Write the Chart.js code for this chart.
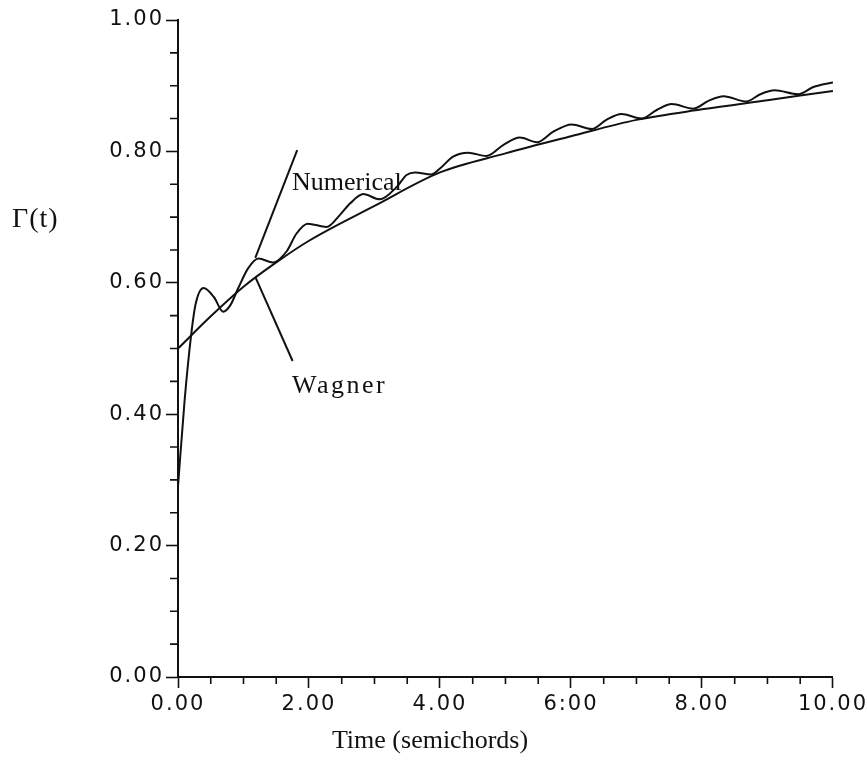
<!DOCTYPE html>
<html>
<head>
<meta charset="utf-8">
<script src="https://cdn.jsdelivr.net/npm/chart.js@4/dist/chart.umd.min.js"></script>
<style>
  html, body { margin: 0; padding: 0; background: #fff; }
  #wrap { width: 867px; height: 765px; position: relative; }
</style>
</head>
<body>
<div id="wrap"><canvas id="gamma-chart"></canvas></div>
<script>
// values (time in semichords, circulation ratio)
const numericalT = [0, 0.1, 0.2, 0.27, 0.39, 0.55, 0.69, 0.8, 0.92, 1.07, 1.23, 1.45, 1.66, 1.81, 1.98,
  2.27, 2.47, 2.63, 2.83, 3.08, 3.34, 3.49, 3.62, 3.87, 4.0, 4.2, 4.43, 4.71, 4.97, 5.22, 5.48,
  5.73, 6.01, 6.32, 6.54, 6.77, 7.08, 7.31, 7.54, 7.87, 8.1, 8.33, 8.68, 8.89, 9.11, 9.47, 9.7, 10.0];
const numericalG = [0.29, 0.42, 0.52, 0.568, 0.592, 0.578, 0.556, 0.566, 0.592, 0.622, 0.637, 0.631, 0.648, 0.675, 0.69,
  0.685, 0.703, 0.721, 0.735, 0.727, 0.746, 0.764, 0.768, 0.765, 0.774, 0.792, 0.798, 0.793, 0.81, 0.821, 0.814,
  0.83, 0.841, 0.834, 0.848, 0.857, 0.85, 0.863, 0.872, 0.865, 0.877, 0.884, 0.876, 0.887, 0.893, 0.887, 0.898, 0.905];

const wagnerT = [0, 0.5, 1, 1.5, 2, 3, 4, 5, 6, 7, 8, 9, 10];
const wagnerG = [0.5, 0.549, 0.594, 0.631, 0.664, 0.717, 0.768, 0.797, 0.823, 0.848, 0.864, 0.878, 0.892];

const xTickValues = [0, 2, 4, 6, 8, 10];
const xTickLabels = ["0.00", "2.00", "4.00", "6:00", "8.00", "10.00"];
const yTickValues = [0, 0.2, 0.4, 0.6, 0.8, 1.0];
const yTickLabels = ["0.00", "0.20", "0.40", "0.60", "0.80", "1.00"];

const X_MINOR = 0.5;
const Y_MINOR = 0.05;
const INK = "#111";
const SERIF = "'Liberation Serif', 'Times New Roman', serif";

// callouts: text anchor and leader line, in data units
const callouts = [
  { text: "Numerical", at: [1.74, 0.741], from: [1.82, 0.802], to: [1.18, 0.638], spacing: "0px" },
  { text: "Wagner", at: [1.74, 0.432], from: [1.75, 0.481], to: [1.18, 0.609], spacing: "2.5px" },
];

function toPoints(xs, ys) {
  return xs.map((x, i) => ({ x: x, y: ys[i] }));
}

const tickLetters = {
  id: "tickLetters",
  beforeDraw(chart) {
    chart.ctx.letterSpacing = "2px";
  },
};

const extras = {
  id: "extras",
  afterDraw(chart) {
    const { ctx, chartArea, scales: { x, y } } = chart;
    ctx.save();
    ctx.letterSpacing = "0px";
    ctx.strokeStyle = INK;
    ctx.lineWidth = 1.6;

    // minor ticks
    ctx.beginPath();
    for (let i = 0; i * X_MINOR <= 10 + 1e-9; i++) {
      const v = i * X_MINOR;
      if (xTickValues.includes(v)) continue;
      const px = x.getPixelForValue(v);
      ctx.moveTo(px, chartArea.bottom);
      ctx.lineTo(px, chartArea.bottom + 7);
    }
    for (let i = 0; i * Y_MINOR <= 1 + 1e-9; i++) {
      const v = Math.round(i * Y_MINOR * 100) / 100;
      if (yTickValues.includes(v)) continue;
      const py = y.getPixelForValue(v);
      ctx.moveTo(chartArea.left, py);
      ctx.lineTo(chartArea.left - 8, py);
    }
    ctx.stroke();

    // callouts
    ctx.fillStyle = INK;
    ctx.font = "26px " + SERIF;
    ctx.textBaseline = "alphabetic";
    ctx.lineWidth = 2;
    callouts.forEach(c => {
      ctx.beginPath();
      ctx.moveTo(x.getPixelForValue(c.from[0]), y.getPixelForValue(c.from[1]));
      ctx.lineTo(x.getPixelForValue(c.to[0]), y.getPixelForValue(c.to[1]));
      ctx.stroke();
      ctx.letterSpacing = c.spacing;
      ctx.fillText(c.text, x.getPixelForValue(c.at[0]), y.getPixelForValue(c.at[1]));
    });

    // axis titles
    ctx.font = "28px " + SERIF;
    ctx.letterSpacing = "1px";
    ctx.textAlign = "left";
    ctx.fillText("\u0393(t)", 12, 227);
    ctx.font = "26px " + SERIF;
    ctx.letterSpacing = "0px";
    ctx.textAlign = "center";
    ctx.fillText("Time (semichords)", 430, 748);
    ctx.restore();
  },
};

const ctx = document.getElementById("gamma-chart");

new Chart(ctx, {
  type: "line",
  data: {
    datasets: [
      {
        label: "Numerical",
        data: toPoints(numericalT, numericalG),
        borderColor: INK,
        borderWidth: 2,
        pointRadius: 0,
        cubicInterpolationMode: "monotone",
      },
      {
        label: "Wagner",
        data: toPoints(wagnerT, wagnerG),
        borderColor: INK,
        borderWidth: 2,
        pointRadius: 0,
        cubicInterpolationMode: "monotone",
      },
    ],
  },
  options: {
    responsive: true,
    maintainAspectRatio: false,
    animation: false,
    layout: { padding: { top: 20, right: 34, bottom: 0, left: 0 } },
    plugins: { legend: { display: false }, tooltip: { enabled: false } },
    scales: {
      x: {
        type: "linear",
        min: 0,
        max: 10,
        afterBuildTicks: scale => { scale.ticks = xTickValues.map(v => ({ value: v })); },
        afterFit: scale => { scale.height = 88; },
        ticks: {
          autoSkip: false,
          maxRotation: 0,
          padding: 4,
          color: INK,
          font: { family: "'DejaVu Sans', sans-serif", size: 21 },
          callback: (v) => xTickLabels[xTickValues.indexOf(v)],
        },
        grid: { drawOnChartArea: false, tickLength: 11, color: INK, tickWidth: 1.6 },
        border: { color: INK, width: 2 },
      },
      y: {
        min: 0,
        max: 1,
        afterBuildTicks: scale => { scale.ticks = yTickValues.map(v => ({ value: v })); },
        afterFit: scale => { scale.width = 178; },
        ticks: {
          autoSkip: false,
          padding: 2,
          color: INK,
          font: { family: "'DejaVu Sans', sans-serif", size: 21 },
          callback: (v) => yTickLabels[yTickValues.indexOf(v)],
        },
        grid: { drawOnChartArea: false, tickLength: 12, color: INK, tickWidth: 1.6 },
        border: { color: INK, width: 2 },
      },
    },
  },
  plugins: [tickLetters, extras],
});
</script>
</body>
</html>
